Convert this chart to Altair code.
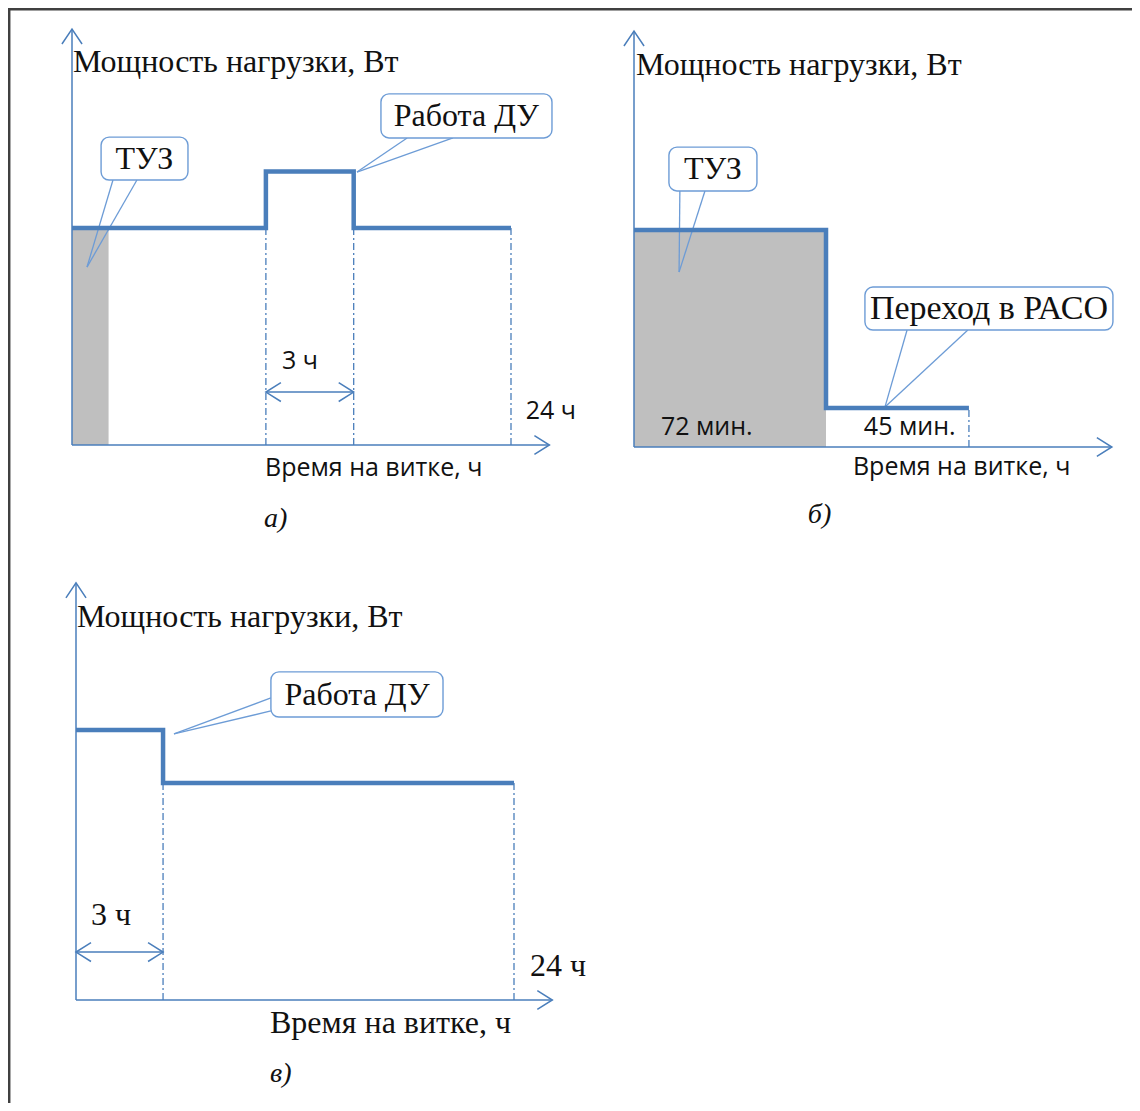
import altair as alt
import pandas as pd

# ---------------- data (schematic load-power diagrams) ----------------
# Panel а: time on orbit (h) vs load power (schematic W)
A_STEP_T = [0, 10.6, 15.4, 24]
A_STEP_P = [100, 126, 100, 100]
A_TUZ_T = [0, 2.0]
A_TUZ_P = [0, 100]
A_DASH_T = [10.6, 15.4, 24]
A_DASH_P = [100, 100, 100]
A_SPAN_T = [10.6, 15.4]          # "3 ч" interval

# Panel б: time (min) vs load power
B_STEP_T = [0, 72, 125.6]
B_STEP_P = [100, 18, 18]
B_TUZ_T = [0, 72]
B_TUZ_P = [0, 100]
B_DASH_T = [125.6]
B_DASH_P = [18]

# Panel в: time (h) vs load power
C_STEP_T = [0, 4.77, 24]
C_STEP_P = [124.4, 100, 100]
C_DASH_T = [4.77, 24]
C_DASH_P = [100, 100]
C_SPAN_T = [0, 4.77]

TITLE_P = "Мощность нагрузки, Вт"
TITLE_T = "Время на витке, ч"

# ---------------- styles ----------------
BLUE = "#4a7ebb"
CALLOUT = "#6d9cd6"
GRAY = "#bfbfbf"
INK = "#111111"
SERIF = "Liberation Serif"
SANS = "Open Sans"

UP = "M-0.67,1L0,0L0.67,1"
RIGHT = "M-1,-0.63L0,0L-1,0.63"
LEFT = "M1,-0.63L0,0L1,0.63"

W, H = 1124, 1095


def panel(xsc, ysc, step_t, step_p, dash_t, dash_p, ytip, xtip,
          shade=None, span=None, pointers=(), boxes=(), texts=()):
    X = lambda f="t": alt.X(f"{f}:Q", scale=xsc, axis=None)
    Y = lambda f="p": alt.Y(f"{f}:Q", scale=ysc, axis=None)
    layers = []
    if shade is not None:
        (t0, t1), (p0, p1) = shade
        layers.append(
            alt.Chart(pd.DataFrame({"t": [t0], "t2": [t1], "p": [p0], "p2": [p1]}))
            .mark_rect(color=GRAY)
            .encode(x=X(), x2="t2:Q", y=Y(), y2="p2:Q")
        )
    # dash-dot guide lines
    layers.append(
        alt.Chart(pd.DataFrame({"t": dash_t, "p": [0] * len(dash_t), "p2": dash_p}))
        .mark_rule(color=BLUE, strokeWidth=1.3, strokeDash=[7, 3, 2, 3])
        .encode(x=X(), y=Y(), y2="p2:Q")
    )
    # axes and span
    rows = [dict(t=0, p=0, t2=0, p2=ytip), dict(t=0, p=0, t2=xtip, p2=0)]
    tips = [dict(t=0, p=ytip, shape=UP), dict(t=xtip, p=0, shape=RIGHT)]
    if span is not None:
        (s0, s1), sp = span
        rows.append(dict(t=s0, p=sp, t2=s1, p2=sp))
        tips += [dict(t=s0, p=sp, shape=LEFT), dict(t=s1, p=sp, shape=RIGHT)]
    layers.append(
        alt.Chart(pd.DataFrame(rows))
        .mark_rule(color=BLUE, strokeWidth=1.5)
        .encode(x=X(), x2="t2:Q", y=Y(), y2="p2:Q")
    )
    layers.append(
        alt.Chart(pd.DataFrame(tips))
        .mark_point(filled=False, color=BLUE, strokeWidth=1.5, opacity=1, size=900)
        .encode(x=X(), y=Y(), shape=alt.Shape("shape:N", scale=None))
    )
    # callout pointers
    if pointers:
        layers.append(
            alt.Chart(pd.DataFrame(list(pointers)))
            .mark_rule(color=CALLOUT, strokeWidth=1.3)
            .encode(x=X(), x2="t2:Q", y=Y(), y2="p2:Q")
        )
    # load-power step line
    layers.append(
        alt.Chart(pd.DataFrame({"t": step_t, "p": step_p, "i": range(len(step_t))}))
        .mark_line(interpolate="step-after", color=BLUE, strokeWidth=4.5)
        .encode(x=X(), y=Y(), order="i:Q")
    )
    if boxes:
        bdf = pd.DataFrame(list(boxes))
        layers.append(
            alt.Chart(bdf)
            .mark_rect(fill="white", stroke=CALLOUT, strokeWidth=1.4, cornerRadius=8)
            .encode(x=X(), x2="t2:Q", y=Y(), y2="p2:Q")
        )
        layers.append(
            alt.Chart(bdf)
            .mark_text(font=SERIF, color=INK, align="center", baseline="middle")
            .encode(x=X("tc"), y=Y("pc"), text="label:N",
                    size=alt.Size("fs:Q", scale=None))
        )
    for rows_, style in texts:
        layers.append(
            alt.Chart(pd.DataFrame(rows_))
            .mark_text(color=INK, align="left", baseline="middle", **style)
            .encode(x=X(), y=Y(), text="label:N")
        )
    return alt.layer(*layers)


title_style = dict(font=SERIF, fontSize=32)
sans_style = dict(font=SANS, fontSize=25)
serif_small = dict(font=SERIF, fontSize=32)
ital_style = dict(font=SERIF, fontSize=28, fontStyle="italic")

# ---------- panel а ----------
pa = panel(
    alt.Scale(domain=[0, 24], range=[64, 503], zero=False, nice=False),
    alt.Scale(domain=[0, 100], range=[437, 220], zero=False, nice=False),
    A_STEP_T, A_STEP_P, A_DASH_T, A_DASH_P, ytip=191.7, xtip=26.1,
    shade=(A_TUZ_T, A_TUZ_P), span=(A_SPAN_T, 24.4),
    pointers=[dict(t=2.24, p=122.1, t2=0.82, p2=82.0), dict(t=3.55, p=122.1, t2=0.82, p2=82.0),
              dict(t=18.32, p=141.5, t2=15.58, p2=125.8), dict(t=20.83, p=141.5, t2=15.58, p2=125.8)],
    boxes=[dict(t=1.59, t2=6.34, p=122.1, p2=141.9, tc=3.96, pc=132.0, fs=32, label="ТУЗ"),
           dict(t=16.89, t2=26.24, p=141.5, p2=161.8, tc=21.56, pc=151.4, fs=32, label="Работа ДУ")],
    texts=[
        ([dict(t=0.05, p=176.5, label=TITLE_P)], title_style),
        ([dict(t=10.55, p=-10.6, label=TITLE_T), dict(t=24.8, p=15.7, label="24 ч"),
          dict(t=11.48, p=38.7, label="3 ч")], sans_style),
        ([dict(t=10.5, p=-34.0, label="а)")], ital_style),
    ],
)

# ---------- panel б ----------
pb = panel(
    alt.Scale(domain=[0, 72], range=[626, 818], zero=False, nice=False),
    alt.Scale(domain=[0, 100], range=[439, 222], zero=False, nice=False),
    B_STEP_T, B_STEP_P, B_DASH_T, B_DASH_P, ytip=191.7, xtip=179.2,
    shade=(B_TUZ_T, B_TUZ_P),
    pointers=[dict(t=17.2, p=118.0, t2=16.9, p2=80.6), dict(t=26.6, p=118.0, t2=16.9, p2=80.6),
              dict(t=102.4, p=53.9, t2=94.1, p2=18.4), dict(t=125.2, p=53.9, t2=94.1, p2=18.4)],
    boxes=[dict(t=13.1, t2=46.1, p=118.0, p2=138.2, tc=29.6, pc=128.0, fs=32, label="ТУЗ"),
           dict(t=86.6, t2=179.6, p=53.9, p2=73.7, tc=133.1, pc=63.8, fs=34, label="Переход в РАСО")],
    texts=[
        ([dict(t=0.75, p=176.0, label=TITLE_P)], title_style),
        ([dict(t=82.1, p=-9.2, label=TITLE_T), dict(t=10.1, p=9.2, label="72 мин."),
          dict(t=86.2, p=9.2, label="45 мин.")], sans_style),
        ([dict(t=65.2, p=-31.3, label="б)")], ital_style),
    ],
)

# ---------- panel в ----------
pc = panel(
    alt.Scale(domain=[0, 24], range=[68, 506], zero=False, nice=False),
    alt.Scale(domain=[0, 100], range=[992, 775], zero=False, nice=False),
    C_STEP_T, C_STEP_P, C_DASH_T, C_DASH_P, ytip=192.2, xtip=26.1,
    span=(C_SPAN_T, 22.1),
    pointers=[dict(t=10.68, p=139.2, t2=5.37, p2=122.6), dict(t=10.68, p=133.2, t2=5.37, p2=122.6)],
    boxes=[dict(t=10.68, t2=20.11, p=130.4, p2=151.2, tc=15.4, pc=140.6, fs=32, label="Работа ДУ")],
    texts=[
        ([dict(t=0.05, p=176.5, label=TITLE_P)], title_style),
        ([dict(t=10.63, p=-10.6, label=TITLE_T), dict(t=24.88, p=15.7, label="24 ч"),
          dict(t=0.82, p=39.2, label="3 ч")], serif_small),
        ([dict(t=10.63, p=-34.1, label="в)")], ital_style),
    ],
)

# ---------- outer frame (left and top edges) ----------
one = pd.DataFrame({"k": [0]})
frame = alt.layer(
    alt.Chart(one).mark_rule(color="#404040", strokeWidth=2.5)
    .encode(x=alt.value(1.2), y=alt.value(0), y2=alt.value(H)),
    alt.Chart(one).mark_rule(color="#404040", strokeWidth=2.5)
    .encode(x=alt.value(0), x2=alt.value(W), y=alt.value(1.2)),
)

chart = (
    alt.layer(pa, pb, pc, frame)
    .resolve_scale(x="independent", y="independent")
    .properties(width=W, height=H, padding=0, autosize="none", background="white")
    .configure_view(stroke="transparent", strokeWidth=0)
)

chart.save("out.html", embed_options={"renderer": "svg", "actions": False})
